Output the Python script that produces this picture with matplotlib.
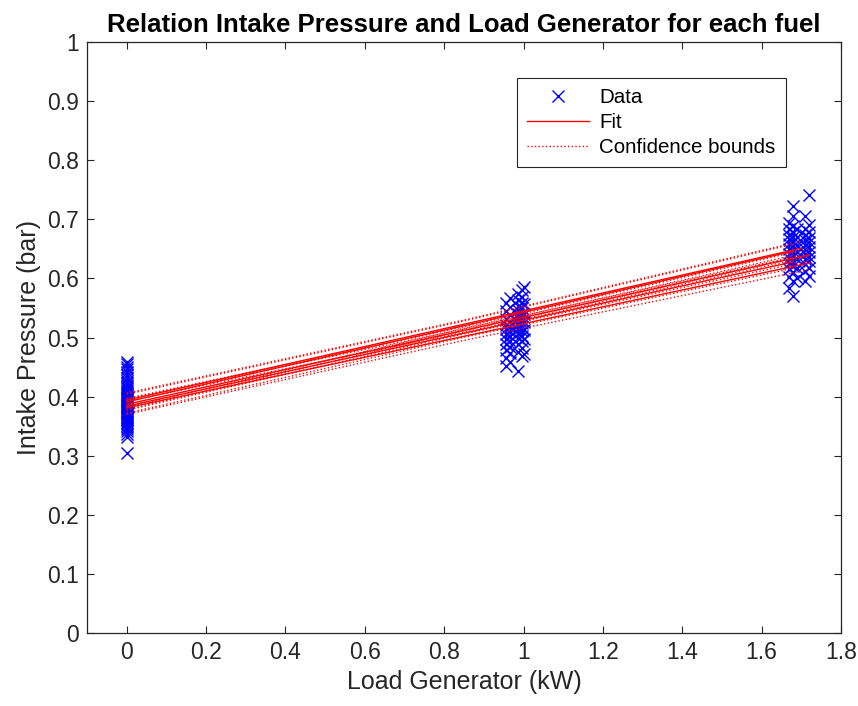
#!/usr/bin/env python3
"""Intake pressure vs generator load, one linear fit per fuel (MATLAB-style figure)."""
import matplotlib
matplotlib.use("Agg")
import matplotlib.pyplot as plt

# --- measured points, grouped in columns of (nearly) equal load ---
col_load = [0.0, 0.955, 0.965, 0.985, 0.995, 1.0, 1.67, 1.68, 1.69, 1.71, 1.72]
col_p = [
    [0.305, 0.331, 0.337, 0.342, 0.346, 0.349, 0.352, 0.355, 0.357, 0.360,
     0.362, 0.364, 0.366, 0.368, 0.370, 0.372, 0.374, 0.376, 0.378, 0.380,
     0.382, 0.384, 0.386, 0.388, 0.390, 0.392, 0.394, 0.396, 0.398, 0.400,
     0.402, 0.405, 0.408, 0.411, 0.414, 0.417, 0.420, 0.423, 0.427, 0.431,
     0.436, 0.441, 0.446, 0.450, 0.455, 0.459],
    [0.452, 0.466, 0.479, 0.489, 0.498, 0.506, 0.514, 0.522, 0.532, 0.545, 0.559],
    [0.458, 0.473, 0.484, 0.494, 0.502, 0.510, 0.518, 0.527, 0.538, 0.552, 0.566],
    [0.443, 0.476, 0.489, 0.499, 0.507, 0.515, 0.521, 0.527, 0.533, 0.539, 0.546, 0.554, 0.564, 0.574],
    [0.468, 0.483, 0.494, 0.503, 0.511, 0.518, 0.524, 0.530, 0.536, 0.542, 0.550, 0.559, 0.569, 0.580],
    [0.472, 0.497, 0.512, 0.526, 0.540, 0.556, 0.586],
    [0.583, 0.603, 0.616, 0.626, 0.634, 0.642, 0.650, 0.658, 0.666, 0.674, 0.683, 0.694],
    [0.570, 0.595, 0.610, 0.621, 0.630, 0.638, 0.646, 0.654, 0.662, 0.670, 0.678, 0.688, 0.705, 0.722],
    [0.600, 0.618, 0.632, 0.645, 0.657, 0.670, 0.684],
    [0.595, 0.612, 0.624, 0.633, 0.641, 0.649, 0.657, 0.665, 0.673, 0.684, 0.706],
    [0.604, 0.618, 0.629, 0.637, 0.645, 0.653, 0.661, 0.669, 0.678, 0.690, 0.741],
]

# --- linear fit per fuel: value at load 0 and at the last load, plus CI half widths ---
fit_x_end = [1.68, 1.72, 1.68, 1.72, 1.70]
fit_y0 = [0.384, 0.387, 0.391, 0.381, 0.394]
fit_y1 = [0.628, 0.640, 0.646, 0.626, 0.651]
ci_w0 = [0.012, 0.010, 0.013, 0.011, 0.012]
ci_wmid = [0.007, 0.006, 0.008, 0.007, 0.007]
ci_w1 = [0.011, 0.010, 0.012, 0.011, 0.012]

xticks = [0, 0.2, 0.4, 0.6, 0.8, 1, 1.2, 1.4, 1.6, 1.8]
yticks = [0, 0.1, 0.2, 0.3, 0.4, 0.5, 0.6, 0.7, 0.8, 0.9, 1]


def main():
    plt.rcParams["font.family"] = ["Liberation Sans", "DejaVu Sans"]
    grey = "#262626"
    fig = plt.figure(figsize=(8.58, 7.06), dpi=100)
    ax = fig.add_axes([0.1014, 0.1034, 0.8788, 0.8371])

    for i, (lx, ps) in enumerate(zip(col_load, col_p)):
        ax.plot([lx] * len(ps), ps, "x", color="#0000ff", markersize=8, markeredgewidth=1.0,
                label="Data" if i == 0 else None, zorder=2)

    for i in range(len(fit_y0)):
        xe = fit_x_end[i]
        xs = [0, xe / 2, xe]
        ym = (fit_y0[i] + fit_y1[i]) / 2
        ys = [fit_y0[i], ym, fit_y1[i]]
        ws = [ci_w0[i], ci_wmid[i], ci_w1[i]]
        ax.plot([0, xe], [fit_y0[i], fit_y1[i]], "-", color="#ff0000", linewidth=1.0,
                label="Fit" if i == 0 else None, zorder=3)
        ax.plot(xs, [y + w for y, w in zip(ys, ws)], ":", color="#ff0000", linewidth=1.0,
                label="Confidence bounds" if i == 0 else None, zorder=3)
        ax.plot(xs, [y - w for y, w in zip(ys, ws)], ":", color="#ff0000", linewidth=1.0, zorder=3)

    ax.set_xlim(-0.1, 1.8)
    ax.set_ylim(0, 1)
    ax.set_xticks(xticks)
    ax.set_xticklabels([f"{t:g}" for t in xticks])
    ax.set_yticks(yticks)
    ax.set_yticklabels([f"{t:g}" for t in yticks])
    ax.tick_params(direction="in", length=5, width=0.8, colors=grey, labelsize=16.5,
                   top=True, right=True, labeltop=False, labelright=False, pad=6)
    for s in ax.spines.values():
        s.set_color(grey)
        s.set_linewidth(0.9)

    ax.set_xlabel("Load Generator (kW)", fontsize=18, color=grey, labelpad=4)
    ax.set_ylabel("Intake Pressure (bar)", fontsize=18, color=grey, labelpad=4)
    ax.set_title("Relation Intake Pressure and Load Generator for each fuel",
                 fontsize=18.5, fontweight="bold", color="black", pad=7)

    leg = ax.legend(loc="upper right", bbox_to_anchor=(0.927, 0.939), borderaxespad=0,
                    fontsize=14.8, handlelength=3.0, handletextpad=0.5, labelspacing=0.28,
                    fancybox=False, framealpha=1, edgecolor="#262626", borderpad=0.5)
    leg.get_frame().set_linewidth(0.8)

    fig.savefig("out.png", dpi=100)


if __name__ == "__main__":
    main()
